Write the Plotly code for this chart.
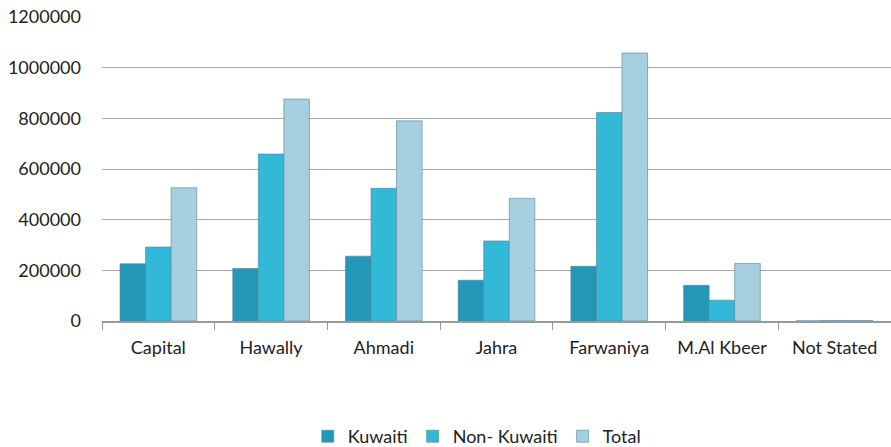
import plotly.graph_objects as go

categories = ["Capital", "Hawally", "Ahmadi", "Jahra", "Farwaniya", "M.Al Kbeer", "Not Stated"]
kuwaiti = [226000, 207000, 256000, 161000, 216000, 141000, 500]
non_kuwaiti = [292000, 659000, 524000, 316000, 823000, 82000, 1500]
total = [526000, 876000, 790000, 484000, 1058000, 227000, 2000]
y_ticks = [0, 200000, 400000, 600000, 800000, 1000000, 1200000]

series = [
    ("Kuwaiti", kuwaiti, "#2397b8"),
    ("Non- Kuwaiti", non_kuwaiti, "#33b9d8"),
    ("Total", total, "#a6cfe0"),
]

fig = go.Figure()
for name, vals, col in series:
    fig.add_trace(go.Bar(
        x=categories, y=vals, name=name,
        marker=dict(color=col, line=dict(color="rgba(90,130,150,0.6)", width=1)),
    ))

fig.update_layout(
    width=891, height=447,
    margin=dict(l=102, r=0, t=17, b=126, autoexpand=False),
    paper_bgcolor="white", plot_bgcolor="white",
    barmode="group", bargap=0.32, bargroupgap=0.0,
    font=dict(family="Lato, Open Sans, sans-serif", size=18, color="#222222"),
    showlegend=True,
    legend=dict(orientation="h", x=0.475, xanchor="center", y=-0.38, yanchor="middle",
                font=dict(size=18), itemwidth=30, tracegroupgap=0),
    xaxis=dict(
        type="category", showgrid=False, showline=True, linecolor="#9a9a9a", linewidth=1.5,
        ticks="outside", tickson="boundaries", ticklen=7, tickcolor="#9a9a9a",
        tickfont=dict(size=18), ticklabelstandoff=10,
    ),
    yaxis=dict(
        range=[0, 1200000], tickvals=y_ticks, tickformat="d",
        showgrid=True, gridcolor="#a6a6a6", gridwidth=1, zeroline=False,
        showline=False, ticks="", tickfont=dict(size=18), ticklabelstandoff=20,
    ),
)

fig.write_html(
    "out.html",
    config={"displayModeBar": False},
    post_script="document.body.style.margin='0px';document.body.style.overflow='hidden';",
)
